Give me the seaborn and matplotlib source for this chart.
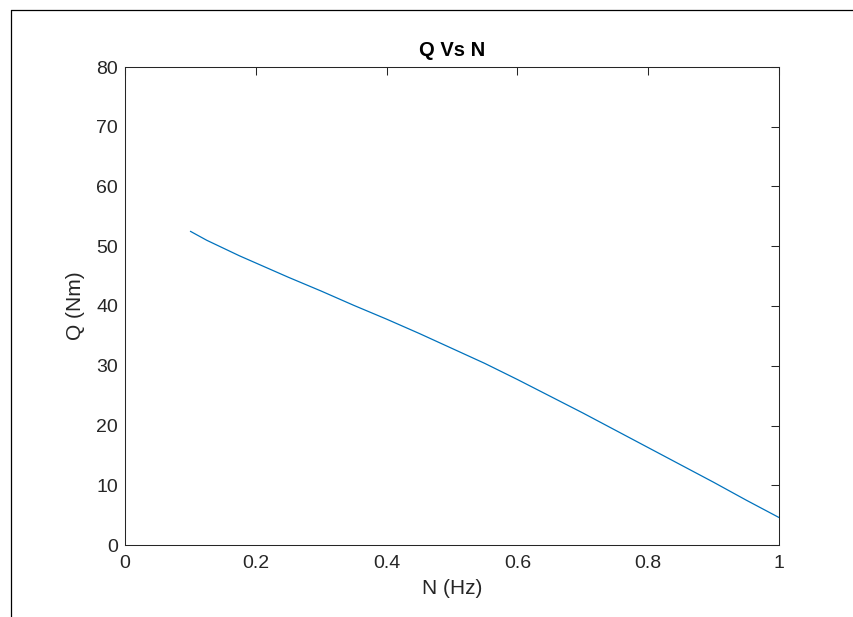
import matplotlib
matplotlib.use("Agg")
import matplotlib.pyplot as plt
from matplotlib.lines import Line2D
import seaborn as sns
import pandas as pd

# Data
n_hz = [0.10, 0.125, 0.15, 0.175, 0.20, 0.25, 0.30, 0.35, 0.40, 0.45, 0.50,
        0.55, 0.60, 0.65, 0.70, 0.75, 0.80, 0.85, 0.90, 0.95, 1.00]
q_nm = [52.5, 51.0, 49.7, 48.4, 47.2, 44.8, 42.5, 40.1, 37.8, 35.4, 32.9,
        30.4, 27.7, 24.9, 22.1, 19.2, 16.3, 13.4, 10.5, 7.5, 4.6]
x_ticks = [0, 0.2, 0.4, 0.6, 0.8, 1]
x_tick_labels = ["0", "0.2", "0.4", "0.6", "0.8", "1"]
y_ticks = [0, 10, 20, 30, 40, 50, 60, 70, 80]

df = pd.DataFrame({"N": n_hz, "Q": q_nm})

sns.set_style("white")
plt.rcParams["font.family"] = ["Liberation Sans", "DejaVu Sans"]

fig = plt.figure(figsize=(8.54, 6.17), dpi=100)
ax = fig.add_axes([125 / 854, 1 - 545 / 617, (779 - 125) / 854, (545 - 67) / 617])

sns.lineplot(data=df, x="N", y="Q", ax=ax, color="#0072BD", linewidth=0.9)

ax.set_xlim(0, 1)
ax.set_ylim(0, 80)
ax.set_xticks(x_ticks)
ax.set_xticklabels(x_tick_labels)
ax.set_yticks(y_ticks)

axis_col = "#262626"
for side in ["left", "right", "top", "bottom"]:
    ax.spines[side].set_visible(True)
    ax.spines[side].set_color(axis_col)
    ax.spines[side].set_linewidth(0.75)

ax.tick_params(axis="both", which="major", direction="in", length=6, width=0.75,
               color=axis_col, labelcolor=axis_col, labelsize=14,
               top=True, right=True)
ax.tick_params(axis="x", pad=7)
ax.tick_params(axis="y", pad=5)

ax.set_xlabel("N (Hz)", fontsize=15, color=axis_col, labelpad=5)
ax.set_ylabel("Q (Nm)", fontsize=15, color=axis_col, labelpad=8)
ax.set_title("Q Vs N", fontsize=14.5, fontweight="bold", color="black", pad=8)

# Frame lines at top and left of the figure
fig.add_artist(Line2D([11 / 854, 1], [1 - 9.5 / 617, 1 - 9.5 / 617],
                      transform=fig.transFigure, color="black", linewidth=0.9))
fig.add_artist(Line2D([11.5 / 854, 11.5 / 854], [0, 1 - 9.5 / 617],
                      transform=fig.transFigure, color="black", linewidth=0.9))

fig.savefig("out.png", dpi=100, facecolor="white")
